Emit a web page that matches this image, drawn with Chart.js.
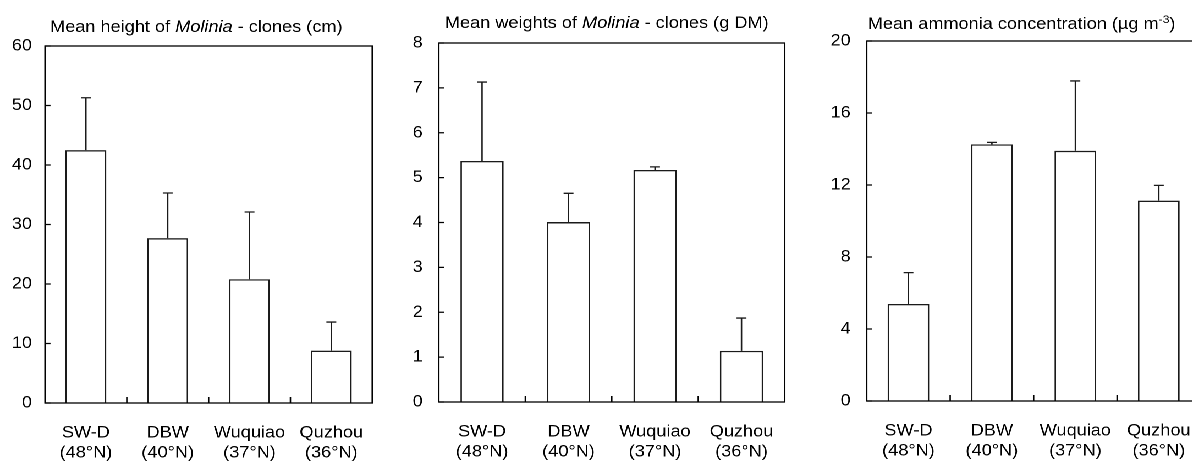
<!DOCTYPE html>
<html lang="en">
<head>
    <meta charset="UTF-8">
    <title>Molinia clones and ammonia</title>
    <script src="https://cdn.jsdelivr.net/npm/chart.js"></script>
    <style>
        body { margin: 0; background: #fff; overflow: hidden; width: 1192px; height: 461px; }
        /* the source figure is a bit stretched sideways, so the whole strip is drawn narrow and scaled */
        #wrap { position: absolute; left: 0; top: 0; height: 461px; transform-origin: 0 0; }
        #wrap canvas { position: absolute; top: 0; }
    </style>
</head>
<body>
    <div id="wrap">
        <canvas id="heightChart"></canvas>
        <canvas id="weightChart"></canvas>
        <canvas id="ammoniaChart"></canvas>
    </div>

    <script>
        // ---- data ----
        const sites = [["SW-D", "(48°N)"], ["DBW", "(40°N)"], ["Wuquiao", "(37°N)"], ["Quzhou", "(36°N)"]];

        const heightMean = [42.5, 27.7, 20.8, 8.8];
        const heightErr  = [8.8, 7.6, 11.3, 4.8];
        const heightTicks = [0, 10, 20, 30, 40, 50, 60];

        const weightMean = [5.37, 4.01, 5.17, 1.14];
        const weightErr  = [1.76, 0.64, 0.07, 0.73];
        const weightTicks = [0, 1, 2, 3, 4, 5, 6, 7, 8];

        const ammoniaMean = [5.39, 14.26, 13.9, 11.13];
        const ammoniaErr  = [1.74, 0.11, 3.88, 0.85];
        const ammoniaTicks = [0, 4, 8, 12, 16, 20];

        const S = 1.1;            // horizontal stretch of the original
        const FS = 16.5;          // font size
        const FONT = "'Liberation Sans', Arial, sans-serif";
        const INK = '#1a1a1a';

        document.getElementById('wrap').style.width = (1192 / S) + 'px';
        document.getElementById('wrap').style.transform = 'scaleX(' + S + ')';

        // frame, inside ticks, error bars and the title
        const panelDecor = {
            id: 'panelDecor',
            afterDatasetsDraw(chart, args, opts) {
                const ctx = chart.ctx, a = chart.chartArea;
                const xs = chart.scales.x, ys = chart.scales.y;
                const ds = chart.data.datasets[0];
                const meta = chart.getDatasetMeta(0);
                ctx.save();
                ctx.strokeStyle = '#000';
                ctx.lineWidth = 1.3;
                ctx.strokeRect(a.left, a.top, a.right - a.left, a.bottom - a.top);

                ctx.beginPath();
                ys.ticks.forEach(t => {
                    const py = ys.getPixelForValue(t.value);
                    ctx.moveTo(a.left, py);
                    ctx.lineTo(a.left + 5, py);
                });
                for (let i = 1; i < xs.ticks.length; i++) {
                    const px = (xs.getPixelForValue(i - 1) + xs.getPixelForValue(i)) / 2;
                    ctx.moveTo(px, a.bottom);
                    ctx.lineTo(px, a.bottom - 6);
                }
                ctx.stroke();

                // upper error whiskers only
                ctx.strokeStyle = INK;
                ctx.lineWidth = 1.3;
                ctx.beginPath();
                ds.data.forEach((v, i) => {
                    const bar = meta.data[i];
                    const y0 = ys.getPixelForValue(v);
                    const y1 = ys.getPixelForValue(v + ds.errUp[i]);
                    ctx.moveTo(bar.x, y0);
                    ctx.lineTo(bar.x, y1);
                    ctx.moveTo(bar.x - 4.5, y1);
                    ctx.lineTo(bar.x + 4.5, y1);
                });
                ctx.stroke();

                // title with italic / superscript pieces
                let x = a.left + opts.dx / S;
                ctx.fillStyle = '#000';
                ctx.textBaseline = 'alphabetic';
                opts.parts.forEach(p => {
                    let size = FS, y = opts.baseline;
                    if (p.sup) { size = 11; y -= 6; }
                    ctx.font = (p.italic ? 'italic ' : '') + size + 'px ' + FONT;
                    ctx.fillText(p.text, x, y);
                    x += ctx.measureText(p.text).width;
                });
                ctx.restore();
            }
        };

        function makePanel(id, mean, err, ticks, area, yPad, title) {
            const canvasLeft = area.l - 45;
            const cv = document.getElementById(id);
            const w = Math.round((area.r - area.l + 45 + 15) / S);
            cv.style.left = (canvasLeft / S) + 'px';
            cv.style.width = w + 'px';
            cv.style.height = '461px';

            return new Chart(cv.getContext('2d'), {
                type: 'bar',
                data: {
                    labels: sites,
                    datasets: [{
                        data: mean,
                        errUp: err,
                        backgroundColor: '#fff',
                        borderColor: INK,
                        borderWidth: 1.4,
                        borderSkipped: 'bottom',
                        categoryPercentage: 1,
                        barPercentage: 0.5
                    }]
                },
                options: {
                    responsive: false,
                    maintainAspectRatio: false,
                    animation: false,
                    devicePixelRatio: 2,
                    layout: { padding: { top: area.t, right: 15 / S, left: 0, bottom: 0 } },
                    plugins: {
                        legend: { display: false },
                        tooltip: { enabled: false },
                        panelDecor: title
                    },
                    scales: {
                        x: {
                            grid: { display: false, drawTicks: false },
                            border: { display: false },
                            ticks: {
                                color: '#000',
                                padding: 20,
                                maxRotation: 0,
                                autoSkip: false,
                                font: { family: FONT, size: FS, lineHeight: 1.22 }
                            },
                            afterFit(scale) { scale.height = 461 - area.b; }
                        },
                        y: {
                            min: ticks[0],
                            max: ticks[ticks.length - 1],
                            afterBuildTicks(scale) { scale.ticks = ticks.map(v => ({ value: v })); },
                            grid: { display: false, drawTicks: false },
                            border: { display: false },
                            ticks: {
                                color: '#000',
                                padding: yPad / S,
                                font: { family: FONT, size: FS }
                            },
                            afterFit(scale) { scale.width = 45 / S; }
                        }
                    }
                },
                plugins: [panelDecor]
            });
        }

        makePanel('heightChart', heightMean, heightErr, heightTicks,
            { l: 45, r: 372, t: 46, b: 403 }, 13,
            { dx: 5, baseline: 32, parts: [
                { text: 'Mean height of ' }, { text: 'Molinia', italic: true }, { text: ' - clones (cm)' }] });

        makePanel('weightChart', weightMean, weightErr, weightTicks,
            { l: 439, r: 785, t: 43, b: 402 }, 16,
            { dx: 6, baseline: 28, parts: [
                { text: 'Mean weights of ' }, { text: 'Molinia', italic: true }, { text: ' - clones (g DM)' }] });

        makePanel('ammoniaChart', ammoniaMean, ammoniaErr, ammoniaTicks,
            { l: 867, r: 1201, t: 41, b: 401 }, 16,
            { dx: 1, baseline: 29, parts: [
                { text: 'Mean ammonia concentration (µg m' }, { text: '-3', sup: true }, { text: ')' }] });
    </script>
</body>
</html>
